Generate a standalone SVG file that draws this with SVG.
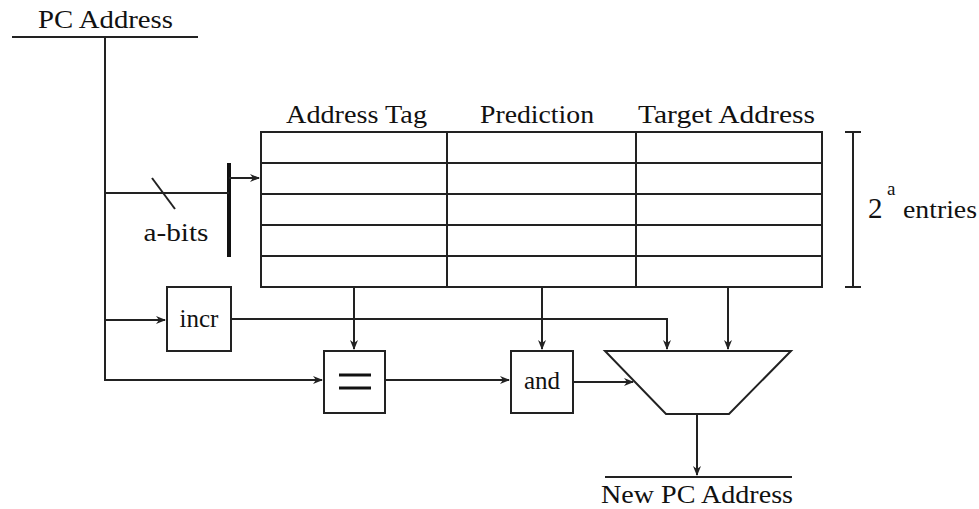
<svg xmlns="http://www.w3.org/2000/svg" width="979" height="509" viewBox="0 0 979 509">
<defs>
<marker id="ah" markerWidth="10" markerHeight="8" refX="9" refY="4" orient="auto" markerUnits="userSpaceOnUse">
<path d="M0,0 L10,4 L0,8 L3,4 Z" fill="#222"/>
</marker>
</defs>
<style>
.ln{stroke:#222;stroke-width:2;fill:none}
.bx{stroke:#222;stroke-width:2;fill:#fff}
.t{font-family:"Liberation Serif","Times New Roman",serif;font-size:25px;fill:#111}
.c{text-anchor:middle}
</style>
<rect width="979" height="509" fill="#fff"/>
<g id="pc-address">
<line class="ln" x1="12" y1="37" x2="198" y2="37"/>
<text class="t" x="38" y="28" textLength="135" lengthAdjust="spacingAndGlyphs">PC Address</text>
</g>
<g id="table">
<rect class="bx" x="261" y="132" width="561" height="155"/>
<line class="ln" x1="261" y1="163" x2="822" y2="163"/>
<line class="ln" x1="261" y1="194" x2="822" y2="194"/>
<line class="ln" x1="261" y1="225" x2="822" y2="225"/>
<line class="ln" x1="261" y1="256" x2="822" y2="256"/>
<line class="ln" x1="447" y1="132" x2="447" y2="287"/>
<line class="ln" x1="636" y1="132" x2="636" y2="287"/>
<text class="t" x="286" y="123" textLength="141" lengthAdjust="spacingAndGlyphs">Address Tag</text>
<text class="t" x="480" y="123" textLength="114" lengthAdjust="spacingAndGlyphs">Prediction</text>
<text class="t" x="638" y="123" textLength="177" lengthAdjust="spacingAndGlyphs">Target Address</text>
</g>
<g id="entries">
<line class="ln" x1="853" y1="132" x2="853" y2="287"/>
<line class="ln" x1="845" y1="132" x2="861" y2="132"/>
<line class="ln" x1="845" y1="287" x2="861" y2="287"/>
<text class="t" x="868" y="218" style="font-size:29px">2</text>
<text class="t" x="887" y="195" style="font-size:19px">a</text>
<text class="t" x="903" y="218" textLength="74" lengthAdjust="spacingAndGlyphs">entries</text>
</g>
<g id="decoder">
<line x1="229" y1="163" x2="229" y2="257" stroke="#111" stroke-width="4"/>
</g>
<g id="incr">
<rect class="bx" x="167" y="287" width="64" height="64"/>
<text class="t c" x="199" y="327">incr</text>
</g>
<g id="equal">
<rect class="bx" x="324" y="351" width="61" height="62"/>
<line x1="339" y1="375" x2="371" y2="375" stroke="#111" stroke-width="3"/>
<line x1="339" y1="388" x2="371" y2="388" stroke="#111" stroke-width="3"/>
</g>
<g id="and">
<rect class="bx" x="511" y="351" width="62" height="62"/>
<text class="t c" x="542" y="389">and</text>
</g>
<g id="mux">
<path class="bx" d="M605,351 L791,351 L729,414 L666,414 Z"/>
</g>
<g id="new-pc-address">
<line class="ln" x1="605" y1="477" x2="792" y2="477"/>
<text class="t" x="601" y="503" textLength="192" lengthAdjust="spacingAndGlyphs">New PC Address</text>
</g>
<g id="connectors">
<polyline class="ln" points="105,37 105,380 322,380" marker-end="url(#ah)"/>
<line class="ln" x1="105" y1="193" x2="229" y2="193"/>
<line class="ln" x1="152" y1="178" x2="175" y2="209" stroke-width="1.5"/>
<text class="t c" x="176" y="241" textLength="65" lengthAdjust="spacingAndGlyphs">a-bits</text>
<line class="ln" x1="229" y1="178" x2="259" y2="178" marker-end="url(#ah)"/>
<line class="ln" x1="105" y1="320" x2="165" y2="320" marker-end="url(#ah)"/>
<polyline class="ln" points="231,319 667,319 667,349" marker-end="url(#ah)"/>
<line class="ln" x1="354" y1="287" x2="354" y2="349" marker-end="url(#ah)"/>
<line class="ln" x1="542" y1="287" x2="542" y2="349" marker-end="url(#ah)"/>
<line class="ln" x1="728" y1="287" x2="728" y2="349" marker-end="url(#ah)"/>
<line class="ln" x1="385" y1="380" x2="509" y2="380" marker-end="url(#ah)"/>
<line class="ln" x1="573" y1="382" x2="633" y2="382" marker-end="url(#ah)"/>
<line class="ln" x1="697" y1="414" x2="697" y2="475" marker-end="url(#ah)"/>
</g>
</svg>
